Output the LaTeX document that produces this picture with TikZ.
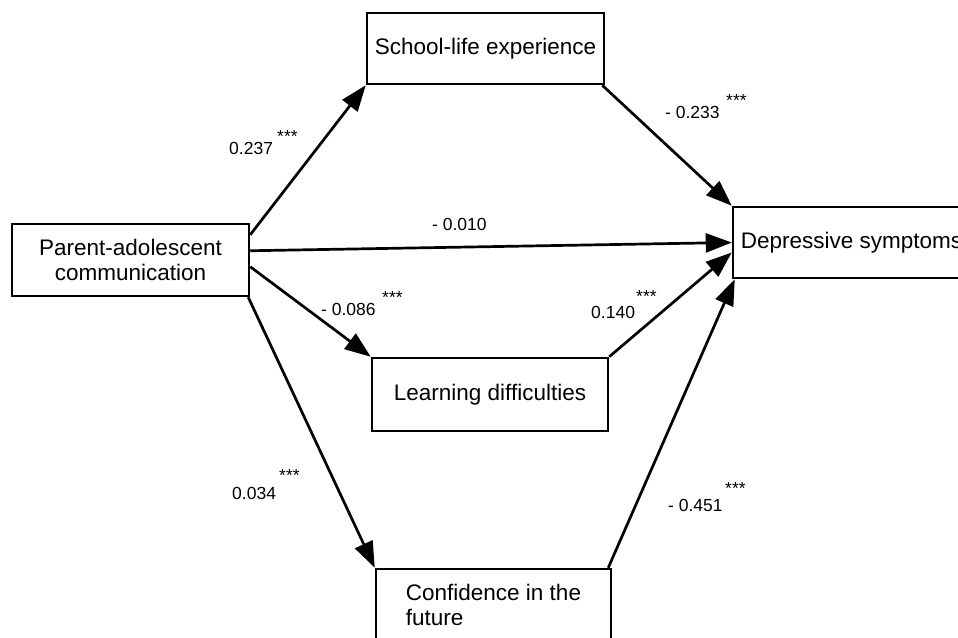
\documentclass[tikz,border=0pt]{standalone}
\usepackage{fontspec}
\setmainfont{Liberation Sans}
\usetikzlibrary{arrows.meta,calc}
\begin{document}
\begin{tikzpicture}[x=1pt,y=-1pt,
  box/.style={draw,line width=2.5pt,rectangle,inner sep=0pt,minimum width=237pt,minimum height=72pt,font=\fontsize{22.5}{25}\selectfont,align=center},
  conn/.style={line width=2.7pt,-{Triangle[length=26pt,width=19pt]}},
  coef/.style={anchor=base west,inner sep=0pt,font=\fontsize{17.5}{20}\selectfont},
  sig/.style={anchor=base west,inner sep=0pt,font=\fontsize{17.5}{20}\selectfont}]
\useasboundingbox (0,0) rectangle (958,637);
\clip (0,0) rectangle (958,637);
\fill[white] (0,0) rectangle (958,637);

\node[box] (pac) at (130.5,260) {Parent-adolescent\\communication};
\node[box,minimum height=71pt] (sl) at (485.5,48.5) {School-life experience};
\node[box,minimum height=71pt] (ds) at (851.5,242.5) {Depressive symptoms};
\node[box,minimum width=236pt,minimum height=73pt] (ld) at (490,394.5) {Learning difficulties};
\node[box,minimum width=235pt,align=left] (cf) at (493.5,605) {Confidence in the\\future};

\draw[conn] ($(pac.north east)+(0,12)$) -- (sl.south west);
\draw[conn] ($(pac.north east)+(0,28)$) -- (ds.west);
\draw[conn] ($(pac.north east)+(0,44)$) -- (ld.north west);
\draw[conn] ($(pac.south east)+(-2,0)$) -- (cf.north west);
\draw[conn] ($(sl.south east)+(-3,0)$) -- (ds.north west);
\draw[conn] (ld.north east) -- ($(ds.west)+(0,10)$);
\draw[conn] ($(cf.north east)+(-4,0)$) -- ($(ds.south west)+(3,0)$);

\node[coef] (c1) at (229,154) {0.237};
\node[sig] (s1) at (277,142) {***};
\node[coef] (c2) at (665,118) {- 0.233};
\node[sig] (s2) at (726,106) {***};
\node[coef] (c3) at (432,230) {- 0.010};
\node[coef] (c4) at (321,315) {- 0.086};
\node[sig] (s4) at (382,303) {***};
\node[coef] (c5) at (591,318) {0.140};
\node[sig] (s5) at (636,302) {***};
\node[coef] (c6) at (232,499) {0.034};
\node[sig] (s6) at (279,481) {***};
\node[coef] (c7) at (668,511) {- 0.451};
\node[sig] (s7) at (725,494) {***};
\end{tikzpicture}
\end{document}
